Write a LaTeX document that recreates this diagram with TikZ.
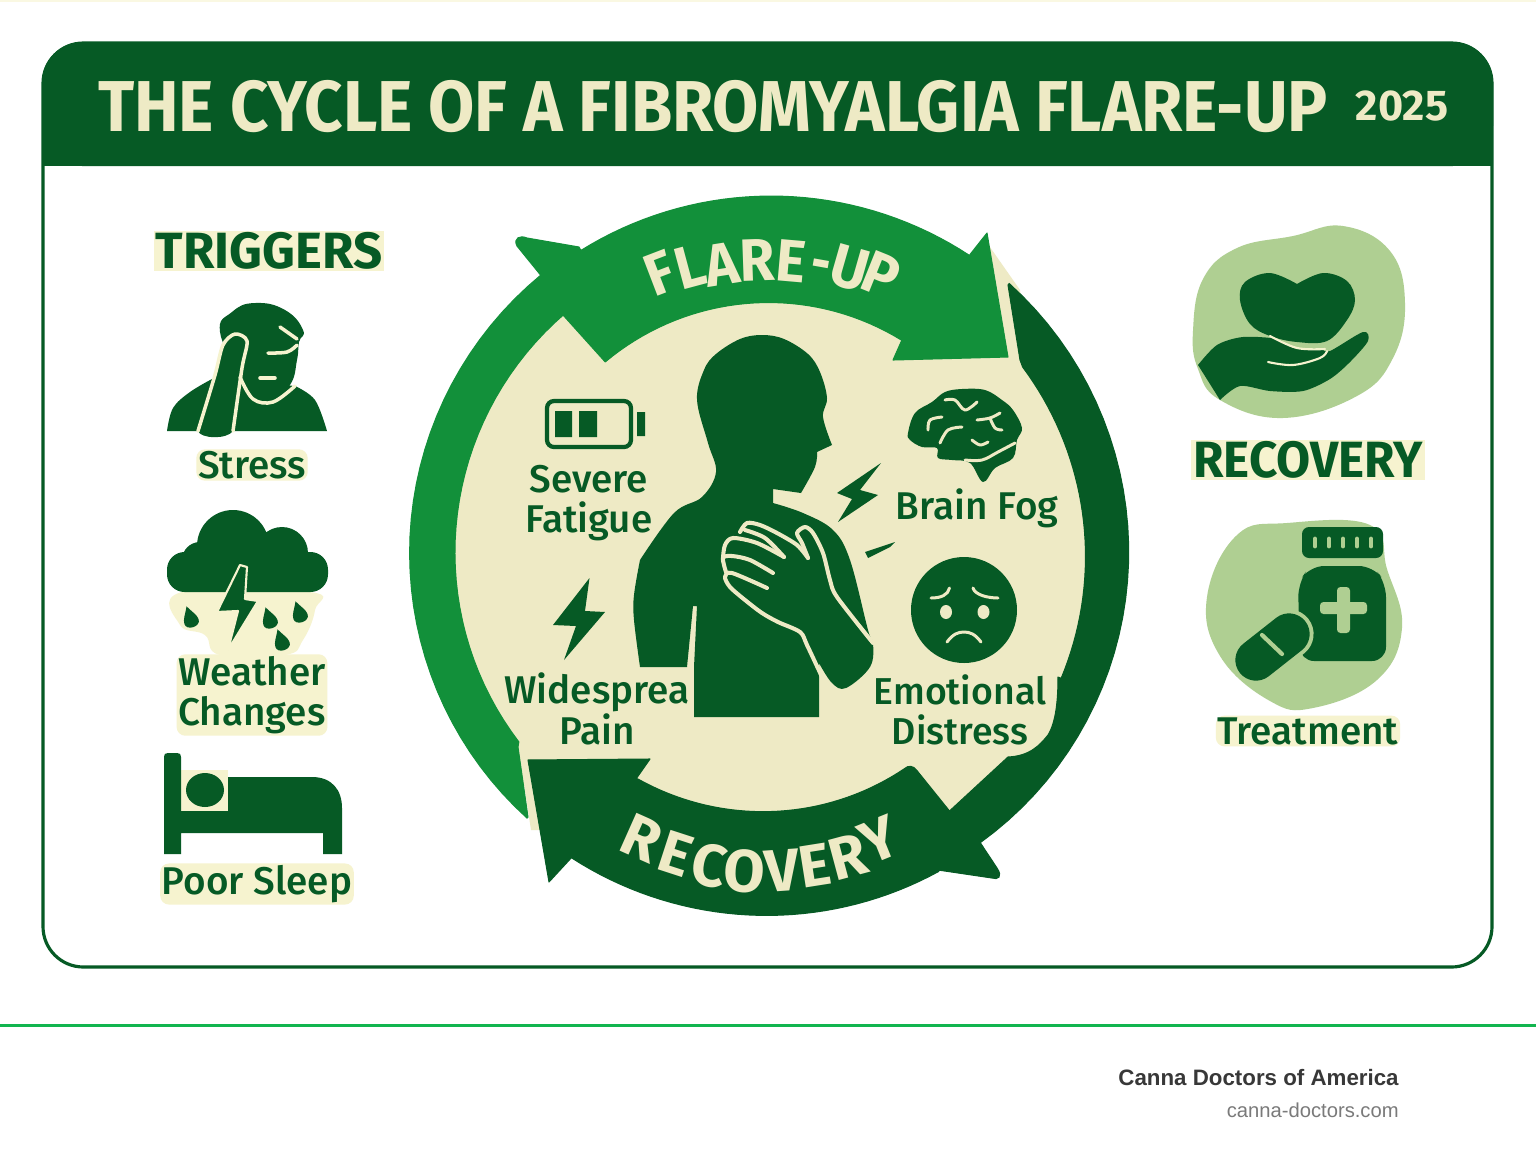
\documentclass[tikz,border=0pt]{standalone}
\usepackage{fontspec}
\setmainfont{Fira Sans}
\newfontfamily\labelfont{Fira Sans Medium}
\newfontfamily\footfont{Liberation Sans}
\definecolor{darkgrn}{HTML}{065A25}
\definecolor{midgrn}{HTML}{12903A}
\definecolor{cream}{HTML}{EEEAC5}
\definecolor{halo}{HTML}{F6F3CF}
\definecolor{sage}{HTML}{AFCF92}
\definecolor{rulegrn}{HTML}{12B54F}
\tikzset{
  trig/.style={font=\labelfont\fontsize{22}{23}\selectfont, text=darkgrn, fill=halo, align=center, rounded corners=5pt, inner sep=1pt},
  sym/.style={font=\labelfont\fontsize{22}{23}\selectfont, text=darkgrn, align=center, inner sep=0pt},
  bighead/.style={font=\bfseries\fontsize{29}{30}\selectfont, text=darkgrn, fill=halo, inner sep=1pt},
  ringtext/.style={font=\bfseries\fontsize{34}{34}\selectfont, text=cream, inner sep=0pt},
  crline/.style={draw=cream, line width=2.3pt, line cap=round, line join=round},
  haloline/.style={draw=halo, line width=2pt, line cap=round, line join=round},
  piece/.style={line width=.6pt, line join=round},
  % angles #1 #2, radii #3 #4
  ringarc/.style n args={4}{insert path={-- plot[domain=#1:#2,samples=36] ({768.5+(#3+(#4-(#3))*(\x-(#1))/(#2-(#1)))*cos(\x)},{556.5+(#3+(#4-(#3))*(\x-(#1))/(#2-(#1)))*sin(\x)})}}
}
\newcommand{\raindrop}[2]{\fill[darkgrn,shift={(#1,#2)},rotate=18,scale=1.25] (0,-9) .. controls (3,-3) and (6,0) .. (6,4) .. controls (6,10) and (-6,10) .. (-6,4) .. controls (-6,0) and (-3,-3) .. (0,-9) -- cycle;}
\begin{document}
\begin{tikzpicture}[x=.02cm,y=-.02cm]
\useasboundingbox (0,0) rectangle (1536,1154);
\fill[white] (0,0) rectangle (1536,1154);
\fill[halo!60!white] (0,0) rectangle (1536,1.5);
% panel and header
\draw[darkgrn,line width=1.8pt,rounded corners=23pt] (43,43) rectangle (1492,967);
\fill[darkgrn,rounded corners=23pt] (42,166) -- (42,42) -- (1493,42) -- (1493,166) -- cycle;
\fill[darkgrn] (42,120) rectangle (1493,166);
\node[font=\bfseries\fontsize{41}{41}\selectfont,text=cream,inner sep=0pt] (title) at (713,107) {\scalebox{.93}[1]{THE CYCLE OF A FIBROMYALGIA FLARE-UP}};
\node[font=\bfseries\fontsize{24.5}{26}\selectfont,text=cream,inner sep=0pt] (year) at (1402,106) {2025};
% footer
\fill[rulegrn] (0,1024) rectangle (1536,1026.5);
\node[font=\footfont\bfseries\fontsize{12.7}{14}\selectfont,text=black!78,anchor=east,inner sep=0pt] (brand) at (1399,1078) {Canna Doctors of America};
\node[font=\footfont\fontsize{11.5}{14}\selectfont,text=black!52,anchor=east,inner sep=0pt] (site) at (1399,1110) {canna-doctors.com};
% ring
\fill[cream] (768.5,556.5) circle (335*.02cm);
\fill[cream] (985,240) -- (1020,290) -- (1030,370) -- (990,370) -- cycle;
\fill[cream] (518,745) -- (531,830) -- (540,830) -- (560,740) -- cycle;
\filldraw[midgrn,piece] (528,817) [ringarc={132.7}{231}{356}{362}] -- (517,246) .. controls (513,238) and (520,235) .. (527,238) -- (579,247)
  [ringarc={238.5}{303.7}{359}{362}] -- (987,233) -- (1008,357) -- (893,360) -- (901,342)
  [ringarc={301.7}{230}{254}{254}] -- (563,315) [ringarc={230}{143.4}{317}{311}] -- (518,747) -- cycle;
\filldraw[darkgrn,piece] (1008,285) [ringarc={-48.6}{53.5}{364}{356}] -- (997,868) .. controls (1003,877) and (998,880) .. (992,878) -- (938,870)
  [ringarc={61.6}{123.2}{358}{360}] -- (549,882) -- (528,760) -- (650,759) -- (636,779)
  [ringarc={120.4}{57.2}{258}{252}] .. controls (908,765) and (914,766) .. (916.5,770) -- (949.5,811) -- (1008,757)
  .. controls (1030,756) and (1040,745) .. (1048,735) .. controls (1056,722) and (1058,700) .. (1058,677)
  [ringarc={22.6}{-36.7}{317}{317}] -- (1020,360) -- cycle;
\foreach \ch/\xx/\yy/\scl/\rot [count=\i] in {F/660/273/.95/21, L/690/267/.95/15, A/722/264/.95/9, R/757/260/.95/2, E/791/261/.95/-5, -/820/271/.8/-10, U/850/268/.95/-16, P/881/275/.95/-22}
  \node[ringtext,rotate=\rot] (flare\i) at (\xx,\yy) {\scalebox{\scl}[1]{\ch}};
\foreach \ch/\xx/\yy/\rot [count=\i] in {R/642/838/-24, E/676/854/-18, C/709/865/-11, O/745/871/-4, V/782/871/4, E/815/866/9, R/848/857/15, Y/879/840/22}
  \node[ringtext,rotate=\rot] (recov\i) at (\xx,\yy) {\ch};
% person
\fill[darkgrn] plot[smooth,tension=.6] coordinates {(640,560)(674,513)(702,497)(716,472)(708,443)(697,400)(704,370)(716,354)(740,339)(762,335)(784,339)(808,354)(820,372)(827,398)(823,417)(832,445)}
  -- (817,452) -- plot[smooth,tension=.6] coordinates {(817,452)(815,467)(801,493)} -- (773,489) -- (773,503)
  -- plot[smooth,tension=.6] coordinates {(773,503)(803,513)(833,530)(850,560)(868,630)(873,643)(870,667)(846,688)(832,683)(819,663)}
  -- (819,717) -- (694,717) -- (694,667) -- (697,606) -- (693,606) -- (687,667) -- (640,667)
  -- plot[smooth,tension=.6] coordinates {(640,667)(634,620)(634,595)(640,560)} -- cycle;
\draw[crline] plot[smooth,tension=.5] coordinates {(767,588)(732,573)(725,577)(730,587)(745,600)(762,613)(778,622)(800,632)(807,645)(822,677)};
\draw[crline] plot[smooth,tension=.5] coordinates {(773,573)(750,560)(732,556)(723,558)(726,572)};
\draw[crline] plot[smooth,tension=.5] coordinates {(784,557)(757,543)(733,538)(725,545)(723,558)};
\draw[crline] plot[smooth,tension=.5] coordinates {(740,532)(747,523)(760,525)(777,533)(797,545)(808,558)};
\draw[crline] plot[smooth,tension=.5] coordinates {(745,530)(765,538)(784,557)};
\draw[crline] plot[smooth,tension=.5] coordinates {(808,558)(802,543)(797,533)(805,527)(813,533)(823,553)(830,580)(837,597)(873,643)};
\fill[darkgrn] (881,463) -- (837,493) -- (852,499) -- (838,522) -- (878,495) -- (860,490) -- cycle;
\fill[darkgrn] (865,552) -- (895,542) -- (890,547) -- (868,558) -- cycle;
% battery
\draw[darkgrn,line width=2.4pt,rounded corners=4pt] (547,401) rectangle (631,447);
\fill[darkgrn] (555,411) rectangle (572,437) (579,411) rectangle (597,437) (637,412) rectangle (645,436);
\node[sym] (fatigue) at (589,503) {Severe\\Fatigue};
% brain
\fill[darkgrn] plot[smooth cycle,tension=.6] coordinates {(908,433)(915,413)(932,402)(945,392)(962,389)(985,390)(1002,400)(1013,410)(1022,428)(1017,440)(1013,458)(995,468)(983,482)(970,463)(952,460)(938,458)(937,448)(922,447)(910,440)};
\draw[crline,line width=1.7pt] plot[smooth,tension=.6] coordinates {(965,460)(982,460)(998,452)(1015,443)};
\draw[crline,line width=1.7pt] plot[smooth,tension=.6] coordinates {(945,400)(955,400)(965,410)(977,402)};
\draw[crline,line width=1.7pt] plot[smooth,tension=.6] coordinates {(928,430)(930,420)(942,417)};
\draw[crline,line width=1.7pt] plot[smooth,tension=.6] coordinates {(940,443)(948,430)(962,427)};
\draw[crline,line width=1.7pt] plot[smooth,tension=.6] coordinates {(977,420)(990,418)(1000,413)};
\draw[crline,line width=1.7pt] plot[smooth,tension=.6] coordinates {(990,418)(995,428)(1002,430)};
\draw[crline,line width=1.7pt] plot[smooth,tension=.6] coordinates {(972,440)(980,445)(988,442)};
\node[sym] (fog) at (977,508) {Brain Fog};
% pain
\fill[darkgrn] (589.5,578) -- (553,625) -- (576,626) -- (564,660) -- (605,612) -- (585,611) -- cycle;
\node[sym] (pain) at (597,709) {Widesprea\\Pain};
% distress
\fill[darkgrn] (964,610) circle (53*.02cm);
\draw[crline,line width=1.7pt] (931,598) .. controls (941,598) and (948,595) .. (949.5,588);
\draw[crline,line width=1.7pt] (998,598) .. controls (988,598) and (975,595) .. (973,588);
\fill[cream] (946,612) ellipse (6*.02cm and 7*.02cm) (983.5,612) ellipse (6*.02cm and 7*.02cm);
\draw[crline,line width=1.7pt] (947,642) .. controls (953,634) and (958,632) .. (964,632) .. controls (970,632) and (975,634) .. (981,642);
\node[sym,font=\labelfont\fontsize{21.3}{23}\selectfont] (mood) at (960,710) {Emotional\\Distress};
% triggers
\node[bighead] (trighead) at (269,251) {TRIGGERS};
\fill[darkgrn] plot[smooth,tension=.6] coordinates {(167,431)(173,408)(190,392)(212,379)} -- (295,386) -- plot[smooth,tension=.6] coordinates {(295,386)(315,400)(327,431)} -- cycle;
\fill[darkgrn] plot[smooth cycle,tension=.8] coordinates {(220,332)(232,312)(255,303)(285,310)(303,330)(299,342)(297,360)(290,385)(270,402)(250,396)(240,375)};
\fill[darkgrn] plot[smooth cycle,tension=.5] coordinates {(198,431)(215,375)(223,345)(235,334)(247,341)(242,368)(233,431)};
\draw[haloline] plot[smooth,tension=.5] coordinates {(198,431)(215,375)(223,345)(235,334)(247,341)(242,368)(233,431)};
\draw[haloline] plot[smooth,tension=.6] coordinates {(240,377)(253,399)(273,402)(295,386)};
\draw[haloline] plot[smooth,tension=.6] coordinates {(268,353)(287,352)(297,345)};
\draw[haloline] plot[smooth,tension=.6] coordinates {(280,327)(297,339)};
\draw[haloline] (260,378) -- (275,378);
\node[trig] (stress) at (252,465) {Stress};
\fill[halo] plot[smooth cycle,tension=.7] coordinates {(182,592)(310,592)(315,610)(303,640)(285,655)(220,655)(205,635)(180,625)};
\fill[darkgrn,rounded corners=10pt] (167,552) rectangle (328,592);
\fill[darkgrn] (233,546) circle (36*.02cm) (282,553) circle (26*.02cm) (200,560) circle (18*.02cm);
\filldraw[darkgrn,draw=halo,line width=1.2pt,line join=round] (240,565) -- (217,612) -- (238,611) -- (228,650) -- (258,601) -- (245,599) -- (247,567) -- cycle;
\raindrop{190}{617}\raindrop{269}{618}\raindrop{281}{640}\raindrop{299}{612}
\node[trig] (weather) at (252,695) {Weather\\Changes};
\fill[halo] (181,770) rectangle (228,812);
\fill[darkgrn] (164,757) .. controls (164,754) and (165,753) .. (168,753) -- (177,753) .. controls (180,753) and (181,754) .. (181,757) -- (181,811) -- (228,811) -- (228,777) -- (312,777) .. controls (332,777) and (342,790) .. (342,808) -- (342,854) -- (323,854) -- (323,833) -- (181,833) -- (181,854) -- (164,854) -- cycle;
\fill[darkgrn] (205,790) ellipse (19*.02cm and 17*.02cm);
\node[trig] (sleep) at (257,884) {Poor Sleep};
% recovery side
\fill[sage] plot[smooth cycle,tension=.7] coordinates {(1343,226)(1390,251)(1405,303)(1393,358)(1357,396)(1283,418)(1220,400)(1198,369)(1193,331)(1203,279)(1237,248)(1293,236)};
\fill[darkgrn] plot[smooth,tension=.6] coordinates {(1297,284)(1270,273)(1245,282)(1240,300)(1250,324)(1270,336)(1297,342)(1327,341)(1347,320)(1355,300)(1347,281)(1323,273)(1297,284)} -- cycle;
\fill[darkgrn] plot[smooth,tension=.5] coordinates {(1198,365)(1217,345)(1243,337)(1277,339)(1293,348)(1320,349)(1330,351)(1363,332)(1368,341)(1350,362)(1330,379)(1303,391)(1270,391)(1240,386)(1220,400)} -- cycle;
\draw[haloline,line width=1.2pt] plot[smooth,tension=.6] coordinates {(1268,362)(1293,365)(1320,358)(1327,351)};
\draw[haloline,line width=1.2pt] plot[smooth,tension=.6] coordinates {(1270,336)(1297,348)(1325,349)};
\node[bighead] (rechead) at (1308,460) {\scalebox{.97}[1]{RECOVERY}};
\fill[sage] plot[smooth cycle,tension=.7] coordinates {(1287,523)(1237,535)(1207,597)(1220,656)(1270,701)(1313,708)(1377,680)(1402,628)(1387,569)(1370,525)};
\fill[darkgrn,rounded corners=4pt] (1302,527) rectangle (1383,558);
\foreach \xx in {1315,1329,1343,1357,1371}
  \draw[sage,line width=2.8pt,line cap=round] (\xx,539) -- (\xx,546);
\fill[darkgrn,rounded corners=8pt] (1310,566) -- (1373,566) -- (1386,583) -- (1386,661) -- (1300,661) -- (1298,583) -- cycle;
\fill[sage,rounded corners=2pt] (1337,587) rectangle (1350,633);
\fill[sage,rounded corners=2pt] (1320,602) rectangle (1367,614);
\draw[sage,line width=28pt,line cap=round] (1256,660) -- (1289,634);
\draw[darkgrn,line width=23.5pt,line cap=round] (1256,660) -- (1289,634);
\draw[sage,line width=2.4pt,line cap=round] (1262,635) -- (1282,654);
\node[trig] (treat) at (1308,731) {Treatment};
\end{tikzpicture}
\end{document}
